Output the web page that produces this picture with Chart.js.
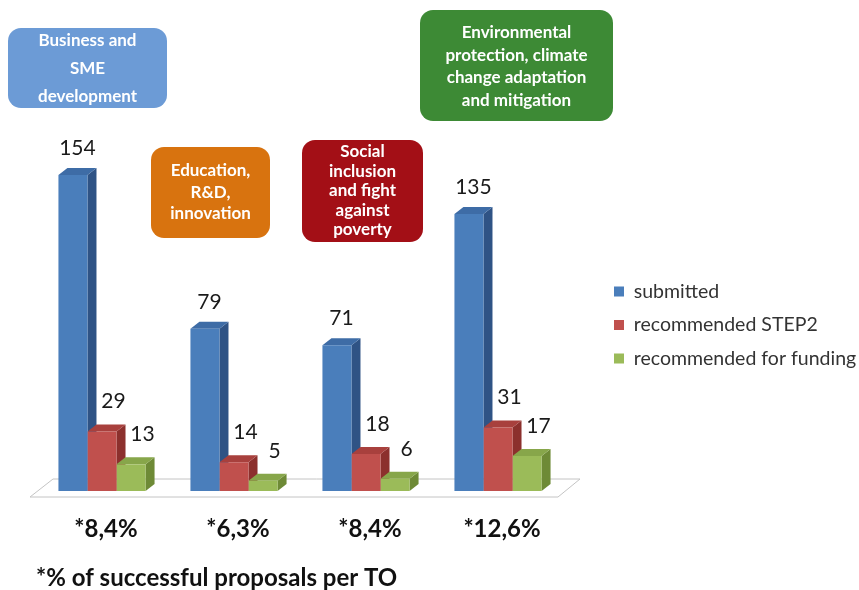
<!DOCTYPE html>
<html><head><meta charset="utf-8">
<script src="https://cdn.jsdelivr.net/npm/chart.js@4.4.0/dist/chart.umd.min.js"></script>
<style>html,body{margin:0;padding:0;background:#fff;}#wrap{width:859px;height:590px;position:relative;}</style>
</head><body><div id="wrap"><canvas id="c"></canvas></div>
<script>
// ---- data ----
const categories = ['*8,4%', '*6,3%', '*8,4%', '*12,6%'];
const submitted = [154, 79, 71, 135];
const recommendedStep2 = [29, 14, 18, 31];
const recommendedFunding = [13, 5, 6, 17];
const seriesNames = ['submitted', 'recommended STEP2', 'recommended for funding'];
const footnote = '*% of successful proposals per TO';
const topicTexts = [
  ['Business and', 'SME', 'development'],
  ['Education,', 'R&D,', 'innovation'],
  ['Social', 'inclusion', 'and fight', 'against', 'poverty'],
  ['Environmental', 'protection, climate', 'change adaptation', 'and mitigation']
];

// ---- styles / layout ----
const FONT = "Lato, 'Open Sans', 'Liberation Sans', sans-serif";
const faces = [
  {front: '#4A7EBB', side: '#2F5385', top: '#3E6CA6'},
  {front: '#C0504D', side: '#8C302D', top: '#A8403D'},
  {front: '#9BBB59', side: '#6E8A36', top: '#87A64A'}
];
const DEPTH_X = 9, DEPTH_Y = 7;
const labelShift = [0, 7, 7];
const labelGap = [13, 16, 16];
const topicLayout = [
  {x: 8, y: 28, w: 159, h: 80, color: '#6C9BD6', lineGap: 28, first: 41},
  {x: 151, y: 147, w: 119, h: 91, color: '#D8730F', lineGap: 21.5, first: 171},
  {x: 302, y: 140, w: 121, h: 102, color: '#A30F16', lineGap: 19.5, first: 152},
  {x: 420, y: 10, w: 193, h: 111, color: '#3D8A35', lineGap: 22.5, first: 33}
];
const TARGET_RIGHT = 564, TARGET_LEGEND_LEFT = 600;
let y2Width = 38;
let padRight = 0;

const threeD = {
  id: 'threeD',
  beforeDatasetsDraw(chart) {
    const ctx = chart.ctx, ca = chart.chartArea;
    const base = chart.scales.y.getPixelForValue(0);
    ctx.save();
    ctx.beginPath();
    ctx.moveTo(ca.left - 6, base + 6);
    ctx.lineTo(ca.left + 17, base - 12);
    ctx.lineTo(ca.right + 16, base - 12);
    ctx.lineTo(ca.right - 6, base + 6);
    ctx.closePath();
    ctx.fillStyle = '#ffffff';
    ctx.fill();
    ctx.strokeStyle = '#c4c4c4';
    ctx.lineWidth = 1;
    ctx.stroke();
    chart.data.datasets.forEach((ds, di) => {
      chart.getDatasetMeta(di).data.forEach(el => {
        const p = el.getProps(['x', 'y', 'base', 'width'], true);
        const L = p.x - p.width / 2, R = p.x + p.width / 2;
        ctx.fillStyle = faces[di].side;
        ctx.beginPath();
        ctx.moveTo(R, p.y); ctx.lineTo(R + DEPTH_X, p.y - DEPTH_Y);
        ctx.lineTo(R + DEPTH_X, p.base - DEPTH_Y); ctx.lineTo(R, p.base);
        ctx.closePath(); ctx.fill();
        ctx.fillStyle = faces[di].top;
        ctx.beginPath();
        ctx.moveTo(L, p.y); ctx.lineTo(L + DEPTH_X, p.y - DEPTH_Y);
        ctx.lineTo(R + DEPTH_X, p.y - DEPTH_Y); ctx.lineTo(R, p.y);
        ctx.closePath(); ctx.fill();
      });
    });
    ctx.restore();
  },
  afterDatasetsDraw(chart) {
    const ctx = chart.ctx;
    ctx.save();
    ctx.font = '21px ' + FONT;
    ctx.fillStyle = '#1a1a1a';
    ctx.textAlign = 'center';
    ctx.textBaseline = 'alphabetic';
    chart.data.datasets.forEach((ds, di) => {
      chart.getDatasetMeta(di).data.forEach((el, i) => {
        const p = el.getProps(['x', 'y'], true);
        ctx.fillText(String(ds.data[i]), p.x + DEPTH_X / 2 + labelShift[di], p.y - DEPTH_Y - labelGap[di]);
      });
    });
    ctx.restore();
  },
  afterDraw(chart) {
    const ctx = chart.ctx;
    ctx.save();
    topicTexts.forEach((lines, i) => {
      const b = topicLayout[i];
      ctx.fillStyle = b.color;
      ctx.beginPath();
      ctx.roundRect(b.x, b.y, b.w, b.h, 13);
      ctx.fill();
      ctx.fillStyle = '#ffffff';
      ctx.font = 'bold 17px ' + FONT;
      ctx.textAlign = 'center';
      ctx.textBaseline = 'middle';
      lines.forEach((t, k) => ctx.fillText(t, b.x + b.w / 2, b.first + k * b.lineGap));
    });
    ctx.restore();
  }
};

const chart = new Chart(document.getElementById('c'), {
  type: 'bar',
  data: {
    labels: categories,
    datasets: [
      {label: seriesNames[0], data: submitted, backgroundColor: faces[0].front},
      {label: seriesNames[1], data: recommendedStep2, backgroundColor: faces[1].front},
      {label: seriesNames[2], data: recommendedFunding, backgroundColor: faces[2].front}
    ]
  },
  options: {
    responsive: true,
    maintainAspectRatio: false,
    animation: false,
    layout: {padding: {left: 36, top: 60, right: padRight, bottom: 0}},
    datasets: {bar: {barPercentage: 1, categoryPercentage: 0.66, borderWidth: 0}},
    scales: {
      x: {
        grid: {display: false, drawTicks: false},
        border: {display: false},
        ticks: {color: '#111', font: {family: FONT, size: 24, weight: 'bold'}, padding: 24, labelOffset: 4},
        title: {display: true, text: footnote, align: 'start', color: '#111',
                font: {family: FONT, size: 24, weight: 'bold', lineHeight: 1}, padding: {top: 0, bottom: 0}},
        afterFit(axis) { axis.height = 99; }
      },
      y: {display: false, min: 0, max: 210},
      y2: {
        position: 'right', display: true,
        grid: {display: false, drawTicks: false}, border: {display: false},
        ticks: {display: false},
        afterFit(axis) { axis.width = y2Width; }
      }
    },
    plugins: {
      legend: {
        position: 'right',
        maxWidth: 320,
        labels: {boxWidth: 10, boxHeight: 10, padding: 14, color: '#333',
                 font: {family: FONT, size: 19.5}}
      },
      tooltip: {enabled: false}
    }
  },
  plugins: [threeD]
});

function fitLayout() {
  chart.update();
  for (let k = 0; k < 4; k++) {
    const dl = chart.legend.left - TARGET_LEGEND_LEFT;
    const dr = chart.chartArea.right - TARGET_RIGHT;
    if (Math.abs(dl) < 0.5 && Math.abs(dr) < 0.5) break;
    padRight += dl;
    y2Width = Math.max(0, y2Width + dr - dl);
    chart.options.layout.padding.right = padRight;
    chart.update();
  }
}
fitLayout();
if (document.fonts && document.fonts.ready) document.fonts.ready.then(fitLayout);
</script></body></html>
